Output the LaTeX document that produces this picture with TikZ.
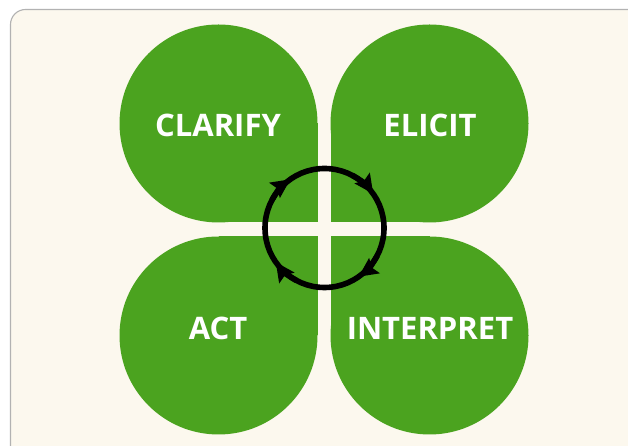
\documentclass[tikz,border=0pt]{standalone}
\usepackage{fontspec}
\setmainfont{Open Sans}
\usetikzlibrary{arrows.meta}
\definecolor{leafgreen}{RGB}{75,163,31}
\definecolor{cream}{RGB}{252,248,238}
\definecolor{bordergray}{RGB}{178,178,178}
\tikzset{
  leaf/.style={fill=leafgreen},
  lbl/.style={text=white,font=\fontsize{31}{36}\selectfont\bfseries,inner sep=0pt,anchor=center},
  cyc/.style={draw=black,line width=5.6pt},
  cyctip/.style={black,line width=5.6pt,-{Stealth[length=19pt,width=18pt,inset=3pt]}}
}
\begin{document}
\begin{tikzpicture}[x=1pt,y=1pt]
\useasboundingbox (0,0) rectangle (628,446);
\fill[white] (0,0) rectangle (628,446);
\begin{scope}
\clip (0,0) rectangle (628,446);
\draw[bordergray,fill=cream,line width=1.1pt,rounded corners=15pt] (10.5,436.5) rectangle (650,-20);
\end{scope}
\coordinate (ctl) at (218.5,322.5);
\coordinate (ctr) at (429.5,322.5);
\coordinate (cbl) at (218.5,110.5);
\coordinate (cbr) at (429.5,110.5);
\fill[leaf] (ctl) circle (99);
\fill[leaf] (ctl) rectangle ++(99,-99);
\fill[leaf] (ctr) circle (99);
\fill[leaf] (ctr) rectangle ++(-99,-99);
\fill[leaf] (cbl) circle (99);
\fill[leaf] (cbl) rectangle ++(99,99);
\fill[leaf] (cbr) circle (99);
\fill[leaf] (cbr) rectangle ++(-99,99);
\node[lbl] (clarify) at (218,321) {CLARIFY};
\node[lbl] (elicit) at (430,321) {ELICIT};
\node[lbl] (act) at (218,117.5) {ACT};
\node[lbl] (interpret) at (430,117.5) {INTERPRET};
\coordinate (cc) at (324.5,218);
\draw[cyc] (cc) circle (59.5);
\foreach \a in {135,45,-45,-135}
  \draw[cyctip] (cc) ++(\a+17:59.5) arc[start angle=\a+17,end angle=\a-10,radius=59.5];
\end{tikzpicture}
\end{document}
